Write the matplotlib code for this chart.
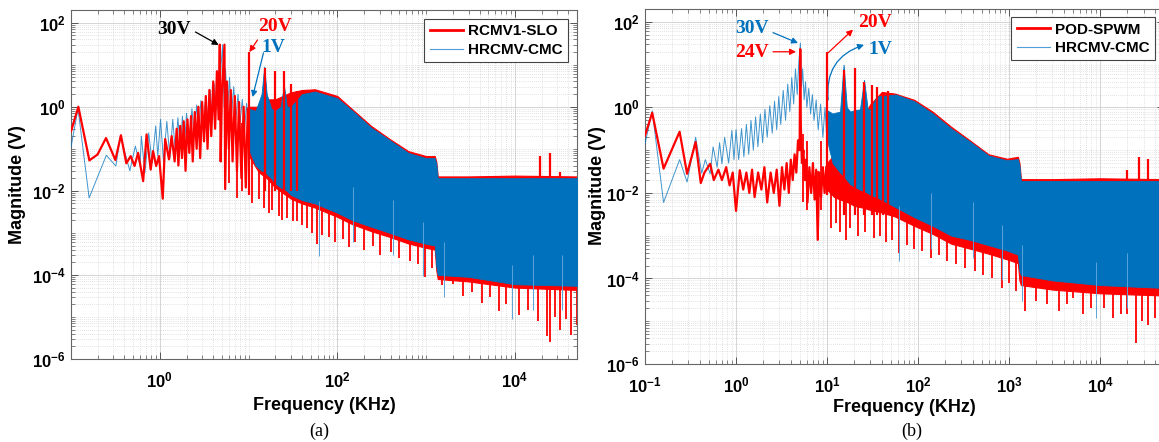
import matplotlib
matplotlib.use("Agg")
import matplotlib.pyplot as plt
from matplotlib.ticker import FixedLocator, LogLocator, FuncFormatter, NullFormatter
import numpy as np

plt.rcParams['font.family'] = ['Liberation Sans', 'DejaVu Sans']
plt.rcParams['mathtext.fontset'] = 'custom'
plt.rcParams['mathtext.bf'] = 'Liberation Sans:bold'
plt.rcParams['mathtext.rm'] = 'Liberation Sans'

RED = '#FF0000'
BLUE = '#0072BD'

# ---------------- (a) RCMV1-SLO / HRCMV-CMC ----------------
# red, low frequency part (kHz, V)
a_red_f = [0.1, 0.121, 0.161, 0.199, 0.248, 0.316, 0.365, 0.42, 0.47, 0.52, 0.57, 0.65, 0.71, 0.79,
           0.84, 0.91, 0.98, 1.08, 1.15, 1.27, 1.36, 1.47, 1.55, 1.62, 1.7, 1.78, 1.86, 1.95, 2.05,
           2.15, 2.25, 2.35, 2.48, 2.6, 2.72, 2.85, 3.0, 3.15, 3.3, 3.45, 3.62, 3.8, 4.0, 4.2, 4.4,
           4.6, 4.74, 4.85, 5.0, 5.35, 5.45, 5.7, 6.0, 6.3, 6.6, 7.0, 7.4, 7.8, 8.3, 8.8, 9.3, 9.8]
a_red_v = [0.26, 1.0, 0.053, 0.073, 0.18, 0.054, 0.21, 0.045, 0.067, 0.039, 0.08, 0.017, 0.22, 0.032,
           0.088, 0.039, 0.067, 0.0065, 0.17, 0.056, 0.2, 0.05, 0.3, 0.04, 0.35, 0.06, 0.45, 0.03, 0.5,
           0.08, 0.6, 0.05, 0.75, 0.1, 1.0, 0.06, 1.3, 0.15, 1.8, 0.1, 2.5, 0.2, 4.0, 0.3, 7.0,
           0.5, 30, 0.05, 2.0, 30, 0.011, 4.0, 0.1, 2.5, 0.05, 1.8, 0.03, 1.3, 0.02, 1.0, 0.012, 0.9]
a_red_band_f = [10, 13, 16, 20, 30, 40, 56, 100, 148, 240, 390, 630, 1000, 1250, 1300, 1350, 3000, 10000, 50000]
a_red_band_hi = [1.0, 1.0, 1.5, 1.5, 2.2, 2.5, 2.6, 1.8, 0.86, 0.35, 0.17, 0.088, 0.067, 0.067, 0.05, 0.022, 0.022, 0.023, 0.022]
a_red_band_lo = [0.07, 0.028, 0.02, 0.012, 0.0065, 0.005, 0.004, 0.0024, 0.0016, 0.0011, 8e-4, 5.6e-4, 4.4e-4, 4e-4,
                 1.3e-4, 8e-5, 7e-5, 5e-5, 4.4e-5]
a_red_spk_f = [10, 15.5, 20, 25, 30, 35, 19000, 25000, 32000]
a_red_spk_hi = [20, 8.5, 7, 7, 3.4, 2.4, 0.067, 0.08, 0.028]
a_red_spk_lo = [0.008, 0.01, 0.01, 0.01, 0.01, 0.01, 0.02, 0.02, 0.02]
a_red_deep_f = [6, 7.5, 8.5, 11, 13, 15, 17, 18.5, 22, 24, 27, 32, 35, 40, 45, 52, 59, 68, 80, 95, 115, 134,
                160, 200, 250, 300, 400, 500, 650, 800, 960, 1150, 1500, 2000, 2600, 3300, 4300, 5200, 6600,
                8000, 11000, 14000, 18000, 23000, 25000, 28000, 32000, 38000, 43000, 50000]
a_red_deep_v = [0.015, 0.0068, 0.01, 0.005, 0.0063, 0.004, 0.003, 0.0035, 0.0025, 0.002, 0.0022, 0.0019, 0.0019,
                0.0015, 0.0013, 0.001, 5.3e-4, 9e-4, 8e-4, 6e-4, 7e-4, 4.5e-4, 6e-4, 4e-4, 5e-4, 3e-4, 3.5e-4,
                2.5e-4, 2.2e-4, 1.8e-4, 9e-5, 1.5e-4, 5.9e-5, 6e-5, 3.2e-5, 4e-5, 2.1e-5, 3e-5, 1.35e-5, 2e-5,
                1.1e-5, 1.5e-5, 8e-6, 3.5e-6, 2.5e-6, 1e-5, 5e-6, 9e-6, 3.8e-6, 6.5e-6]

a_blue_f = [0.1, 0.12, 0.16, 0.25, 0.32, 0.36, 0.46, 0.53, 0.6, 0.62, 0.68, 0.75, 0.82, 0.9, 0.95, 1.02,
            1.1, 1.2, 1.3, 1.4, 1.5, 1.6, 1.7, 1.8, 1.9, 2.0, 2.15, 2.3, 2.45, 2.6, 2.75, 2.9, 3.1, 3.3,
            3.5, 3.7, 3.9, 4.1, 4.3, 4.5, 4.7, 4.9, 5.1, 5.3, 5.5, 5.8, 6.1, 6.4, 6.8, 7.2, 7.6, 8.0,
            8.5, 9.0, 9.5, 10]
a_blue_v = [0.11, 0.9, 0.0068, 0.07, 0.039, 0.2, 0.03, 0.116, 0.04, 0.2, 0.027, 0.24, 0.046, 0.35, 0.067, 0.5,
            0.05, 0.45, 0.06, 0.5, 0.08, 0.55, 0.1, 0.6, 0.12, 0.7, 0.15, 0.9, 0.2, 1.1, 0.25, 1.4, 0.3, 1.8,
            0.35, 2.5, 0.5, 3.5, 0.8, 6, 1.5, 10, 30, 1.0, 8, 0.8, 5, 0.6, 3, 0.5, 2, 0.4,
            1.5, 0.3, 1.2, 0.3]
a_blue_band_f = [10, 12, 14, 15, 16, 18, 20, 23, 25, 27, 30, 40, 56, 100, 148, 240, 390, 630, 1000, 1250,
                 1300, 1350, 3000, 10000, 50000]
a_blue_band_hi = [0.9, 0.8, 2, 9, 2, 0.9, 0.8, 1.0, 3.3, 1.0, 1.0, 2.0, 2.3, 1.6, 0.8, 0.32, 0.16, 0.08, 0.06, 0.06,
                  0.045, 0.02, 0.02, 0.02, 0.02]
a_blue_band_lo = [0.1, 0.04, 0.03, 0.03, 0.025, 0.02, 0.015, 0.012, 0.011, 0.01, 0.008, 0.006, 0.005, 0.003, 0.002,
                  0.0014, 0.001, 7e-4, 5.5e-4, 5e-4, 1.6e-4, 1e-4, 9e-5, 6e-5, 5.5e-5]
a_blue_deep_f = [62, 150, 420, 920, 1600, 9200, 16000, 34000]
a_blue_deep_v = [2.8e-4, 6e-4, 3e-4, 9.3e-5, 3e-5, 8.7e-6, 1.5e-5, 1.5e-5]

# ---------------- (b) POD-SPWM / HRCMV-CMC ----------------
b_red_f = [0.1, 0.12, 0.16, 0.24, 0.29, 0.36, 0.41, 0.45, 0.52, 0.57, 0.64, 0.7, 0.78, 0.85, 0.92, 1.0,
           1.1, 1.2, 1.3, 1.4, 1.5, 1.6, 1.75, 1.9, 2.05, 2.2, 2.4, 2.6, 2.8, 3.0, 3.2, 3.4, 3.6, 3.8,
           4.0, 4.2, 4.4, 4.6, 4.8, 5.0, 5.08, 5.15, 5.3, 5.5, 5.7, 5.9, 6.1, 6.4, 6.7, 7.0, 7.3, 7.6,
           7.9, 8.2, 8.6, 9.0, 9.4, 9.8]
b_red_v = [0.22, 0.75, 0.037, 0.27, 0.028, 0.155, 0.017, 0.03, 0.048, 0.02, 0.035, 0.02, 0.04, 0.015, 0.03, 0.0038,
           0.034, 0.012, 0.03, 0.01, 0.035, 0.008, 0.03, 0.012, 0.04, 0.006, 0.03, 0.01, 0.035, 0.005, 0.04, 0.012,
           0.05, 0.01, 0.06, 0.02, 0.08, 0.03, 0.17, 0.1, 23, 0.4, 0.05, 0.1, 0.02, 0.06, 0.006, 0.04, 0.01,
           0.05, 0.007, 0.035, 8e-4, 0.03, 0.008, 0.04, 0.01, 0.04]
b_red_band_f = [10, 12, 14, 17, 20, 25, 30, 40, 56, 91, 145, 232, 370, 595, 950, 1250, 1300, 1350, 3000, 10000, 50000]
b_red_band_hi = [0.05, 0.08, 0.1, 0.2, 0.3, 0.6, 1.2, 2.3, 2.1, 1.5, 0.79, 0.35, 0.17, 0.08, 0.063, 0.07, 0.05, 0.021,
                 0.021, 0.022, 0.021]
b_red_band_lo = [0.012, 0.008, 0.007, 0.006, 0.005, 0.0045, 0.004, 0.0035, 0.0028, 0.0017, 0.0011, 6.5e-4, 5e-4,
                 3.8e-4, 2.8e-4, 2.3e-4, 9e-5, 7e-5, 5.5e-5, 4.5e-5, 4e-5]
b_red_spk_f = [10, 15.5, 20.2, 25.5, 30.9, 35.5, 40.8, 47, 20000, 27000, 34000]
b_red_spk_hi = [19.4, 7.6, 8.3, 4.0, 3.3, 3.0, 2.3, 2.4, 0.034, 0.07, 0.063]
b_red_spk_lo = [0.009, 0.003, 0.003, 0.003, 0.003, 0.003, 0.003, 0.003, 0.02, 0.02, 0.02]
b_red_deep_f = [5.5, 6.1, 7.9, 8.6, 11, 12.5, 14, 16, 18, 22, 26, 33, 38, 45, 52, 62, 75, 90, 110, 140, 170, 210,
                260, 330, 420, 520, 650, 830, 1000, 1200, 1500, 2000, 2600, 3560, 4300, 5100, 6500, 8000, 11000,
                14000, 17000, 20000, 24500, 29000, 34000, 40000, 45000]
b_red_deep_v = [0.006, 0.004, 8e-4, 0.004, 0.0015, 0.002, 0.0012, 8e-4, 0.0015, 0.001, 0.0012, 9e-4, 0.001, 7e-4,
                8e-4, 4e-4, 6e-4, 5e-4, 4.5e-4, 3e-4, 3.5e-4, 2.5e-4, 2.2e-4, 1.8e-4, 1.5e-4, 1.2e-4, 1e-4, 6e-5,
                8e-5, 5e-5, 1.7e-5, 3e-5, 2.5e-5, 1.7e-5, 2.5e-5, 3.5e-5, 1.5e-5, 2e-5, 2e-5, 1.2e-5, 1.5e-5,
                1.5e-5, 3.1e-6, 1e-5, 8e-6, 1.2e-5, 1.6e-6]

b_blue_f = [0.1, 0.12, 0.16, 0.24, 0.29, 0.36, 0.42, 0.46, 0.52, 0.56, 0.62, 0.66, 0.7, 0.75, 0.83, 0.9,
            0.95, 1.0, 1.07, 1.15, 1.22, 1.3, 1.38, 1.46, 1.55, 1.64, 1.74, 1.85, 1.96, 2.08, 2.2, 2.35,
            2.5, 2.65, 2.8, 2.95, 3.1, 3.3, 3.5, 3.7, 3.9, 4.1, 4.3, 4.5, 4.7, 4.9, 5.1, 5.25, 5.4, 5.6,
            5.8, 6.0, 6.3, 6.6, 6.9, 7.2, 7.6, 8.0, 8.5, 9.0, 9.5, 10]
b_blue_v = [0.14, 0.83, 0.006, 0.06, 0.018, 0.2, 0.029, 0.06, 0.028, 0.12, 0.04, 0.15, 0.048, 0.2, 0.05, 0.29,
            0.06, 0.3, 0.06, 0.32, 0.07, 0.4, 0.08, 0.5, 0.1, 0.6, 0.12, 0.7, 0.15, 0.9, 0.2, 1.1,
            0.25, 1.4, 0.3, 1.8, 0.4, 2.5, 0.5, 3.5, 0.8, 5, 1.2, 8, 2, 12, 32, 3, 8, 1.5,
            4, 1, 2.8, 0.7, 2, 0.5, 1.5, 0.3, 1.2, 0.2, 1, 0.15]
b_blue_band_f = [10, 11.5, 13.9, 15.2, 16.5, 18, 20, 23, 25.5, 28, 30, 35, 57, 91, 145, 232, 370, 595, 950, 1250,
                 1300, 1350, 3000, 10000, 50000]
b_blue_band_hi = [0.86, 0.72, 0.8, 10, 1.0, 0.8, 0.86, 0.9, 4.4, 0.9, 0.9, 1.8, 2.0, 1.4, 0.72, 0.32, 0.16, 0.075,
                  0.058, 0.062, 0.045, 0.019, 0.019, 0.019, 0.019]
b_blue_band_lo = [0.17, 0.05, 0.03, 0.025, 0.02, 0.016, 0.014, 0.012, 0.011, 0.01, 0.009, 0.008, 0.0046, 0.0027,
                  0.0017, 0.001, 8e-4, 6e-4, 4.5e-4, 3.6e-4, 1.5e-4, 1.2e-4, 9e-5, 7e-5, 6e-5]
b_blue_deep_f = [62, 140, 400, 830, 1400, 9100, 20000]
b_blue_deep_v = [2.5e-4, 5e-4, 3e-4, 9e-5, 3e-5, 1.2e-5, 2e-5]

W, H = 1159, 442
fig = plt.figure(figsize=(W / 100, H / 100), dpi=100)
ax1 = fig.add_axes([71 / W, (H - 359) / H, 506 / W, 349 / H])
ax2 = fig.add_axes([645 / W, (H - 364) / H, 518.7 / W, 355 / H])


def draw(ax, rf, rv, rbf, rblo, rbhi, rsf, rslo, rshi, rdf, rdv,
         bf, bv, bbf, bblo, bbhi, bdf, bdv, labels):
    ax.fill_between(rbf, rblo, rbhi, color=RED, lw=0.8, zorder=2)
    ax.vlines(rdf, rdv, np.array(rdv) * 40, color=RED, lw=1.3, zorder=2)
    ax.fill_between(bbf, bblo, bbhi, color=BLUE, lw=0.6, zorder=3)
    ax.vlines(bdf, bdv, np.array(bdv) * 20, color='#5BA3D9', lw=0.7, zorder=3)
    ax.plot(bf, bv, color=BLUE, lw=0.7, alpha=0.75, zorder=4)
    ax.plot(rf, rv, color=RED, lw=1.6, zorder=5)
    ax.vlines(rsf, rslo, rshi, color=RED, lw=1.6, zorder=5)
    # legend proxies
    ax.plot([], [], color=RED, lw=2, label=labels[0])
    ax.plot([], [], color='#4EA0DA', lw=0.8, label=labels[1])

    ax.set_xscale('log')
    ax.set_yscale('log')
    ax.set_xlim(0.1, 5e4)
    ax.set_ylim(1e-6, 200)
    ax.yaxis.set_major_locator(FixedLocator([1e-6, 1e-4, 1e-2, 1, 100]))
    ax.yaxis.set_minor_locator(LogLocator(base=10, subs=np.arange(1, 10), numticks=50))
    ax.xaxis.set_minor_locator(LogLocator(base=10, subs=np.arange(1, 10), numticks=50))
    fmt = FuncFormatter(lambda v, p: r'$\mathbf{10^{%d}}$' % round(np.log10(v)))
    ax.xaxis.set_major_formatter(fmt)
    ax.yaxis.set_major_formatter(fmt)
    ax.xaxis.set_minor_formatter(NullFormatter())
    ax.yaxis.set_minor_formatter(NullFormatter())
    ax.tick_params(which='both', direction='in', top=True, right=True, color='#555555')
    ax.tick_params(which='major', length=5, width=0.7, labelsize=12)
    ax.tick_params(which='minor', length=3, width=0.5)
    ax.tick_params(axis='x', pad=8)
    ax.tick_params(axis='y', pad=4)
    ax.grid(True, which='major', color='#cfcfcf', lw=0.6)
    ax.grid(True, which='minor', color='#c8c8c8', lw=0.5, ls=(0, (1, 2)))
    ax.set_axisbelow(True)
    for s in ax.spines.values():
        s.set_color('#666666')
        s.set_linewidth(0.8)


draw(ax1, a_red_f, a_red_v, a_red_band_f, a_red_band_lo, a_red_band_hi, a_red_spk_f, a_red_spk_lo, a_red_spk_hi,
     a_red_deep_f, a_red_deep_v, a_blue_f, a_blue_v, a_blue_band_f, a_blue_band_lo, a_blue_band_hi,
     a_blue_deep_f, a_blue_deep_v, ['RCMV1-SLO', 'HRCMV-CMC'])
draw(ax2, b_red_f, b_red_v, b_red_band_f, b_red_band_lo, b_red_band_hi, b_red_spk_f, b_red_spk_lo, b_red_spk_hi,
     b_red_deep_f, b_red_deep_v, b_blue_f, b_blue_v, b_blue_band_f, b_blue_band_lo, b_blue_band_hi,
     b_blue_deep_f, b_blue_deep_v, ['POD-SPWM', 'HRCMV-CMC'])

ax1.xaxis.set_major_locator(FixedLocator([1, 100, 1e4]))
ax2.xaxis.set_major_locator(FixedLocator([0.1, 1, 10, 100, 1000, 1e4]))

for ax, anchor in ((ax1, (0.982, 0.974)), (ax2, (0.983, 0.977))):
    leg = ax.legend(loc='upper right', bbox_to_anchor=anchor, fancybox=False, framealpha=1,
                    edgecolor='#444444', prop={'weight': 'bold', 'size': 11}, handlelength=2.2,
                    borderaxespad=0, labelspacing=0.3, handletextpad=0.3, borderpad=0.35)
    leg.get_frame().set_linewidth(0.8)

ser = dict(family=['Liberation Serif', 'DejaVu Serif'], fontweight='bold', fontsize=14)
arw = dict(arrowstyle='-|>', lw=0.9, mutation_scale=9, shrinkA=0, shrinkB=0)

# (a) annotations
ax1.annotate('', xy=(4.6, 29.5), xytext=(2.52, 60), arrowprops=dict(color='black', **arw))
ax1.text(1.45, 67, '30V', color='black', ha='center', va='center', **ser)
ax1.annotate('', xy=(10.2, 20), xytext=(12.6, 38.7), arrowprops=dict(color=RED, **arw))
ax1.text(20.1, 79, '20V', color=RED, ha='center', va='center', **ser)
ax1.annotate('', xy=(11.1, 1.7), xytext=(14.7, 19), arrowprops=dict(color=BLUE, **arw))
ax1.text(19.1, 26, '1V', color=BLUE, ha='center', va='center', **ser)

# (b) annotations
ax2.annotate('', xy=(4.8, 32), xytext=(2.55, 56), arrowprops=dict(color=BLUE, **arw))
ax2.text(1.5, 69, '30V', color=BLUE, ha='center', va='center', **ser)
ax2.annotate('', xy=(4.56, 20), xytext=(2.55, 20), arrowprops=dict(color=RED, **arw))
ax2.text(1.5, 19, '24V', color=RED, ha='center', va='center', **ser)
ax2.annotate('', xy=(19.3, 66), xytext=(10.3, 19), arrowprops=dict(color=RED, **arw))
ax2.text(33.7, 96, '20V', color=RED, ha='center', va='center', **ser)
ax2.annotate('', xy=(25.5, 29), xytext=(10.3, 1.5),
             arrowprops=dict(color=BLUE, connectionstyle='arc3,rad=-0.4', **arw))
ax2.text(39, 22.3, '1V', color=BLUE, ha='center', va='center', **ser)

# axis labels and captions
lab = dict(fontweight='bold', fontsize=13, ha='center', va='center')
fig.text(18 / W, 1 - 185 / H, 'Magnitude (V)', rotation=90, **lab)
fig.text(597 / W, 1 - 186 / H, 'Magnitude (V)', rotation=90, **lab)
fig.text(324 / W, 1 - 406 / H, 'Frequency (KHz)', **lab)
fig.text(904 / W, 1 - 408 / H, 'Frequency (KHz)', **lab)
cap = dict(family=['Liberation Serif', 'DejaVu Serif'], fontsize=13, ha='center', va='center')
fig.text(319 / W, 1 - 431 / H, '(a)', **cap)
fig.text(912 / W, 1 - 431 / H, '(b)', **cap)

fig.savefig('out.png', dpi=100)
